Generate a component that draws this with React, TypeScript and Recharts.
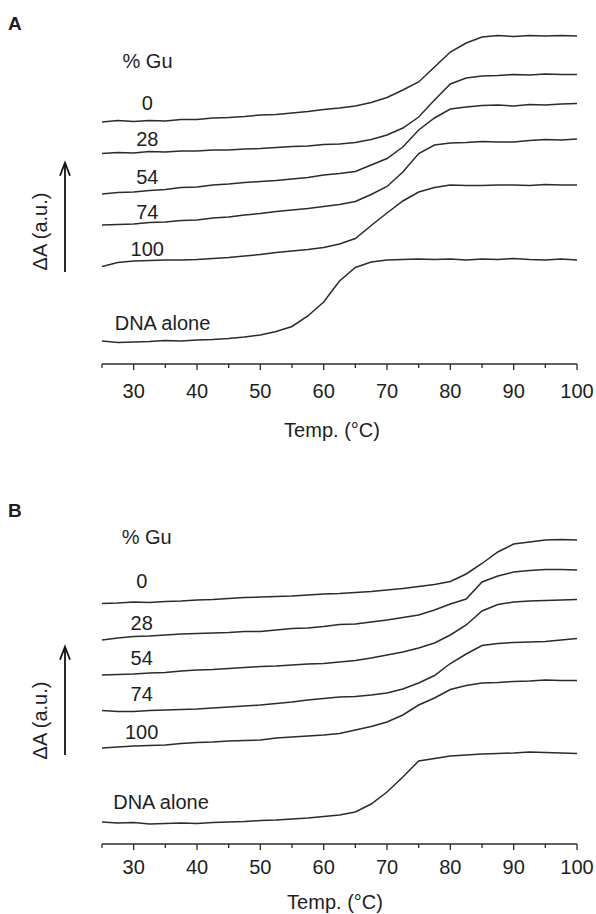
import React from 'react';
import { LineChart, Line, XAxis, YAxis } from 'recharts';

// Temperatures (°C) shared by all curves
const temps = [25, 27.5, 30, 32.5, 35, 37.5, 40, 42.5, 45, 47.5, 50, 52.5, 55, 57.5, 60, 62.5, 65, 67.5, 70, 72.5, 75, 77.5, 80, 82.5, 85, 87.5, 90, 92.5, 95, 97.5, 100];

const xTicks = [25, 30, 35, 40, 45, 50, 55, 60, 65, 70, 75, 80, 85, 90, 95, 100];
const seriesLabels = ['0', '28', '54', '74', '100', 'DNA alone'];

// Panel A: offset absorbance curves (a.u., stacked)
const aGu0 = [242, 243.5, 242.5, 243.5, 243, 244.5, 244.5, 246, 246.5, 247.5, 249, 249.5, 251, 252.5, 254.5, 256, 258, 261.5, 266.5, 274, 282, 297, 312, 321, 327, 328.5, 327.5, 328.5, 328, 328.5, 328];
const aGu28 = [210.5, 211.5, 211, 212.5, 212, 213, 213, 214, 214, 215, 215.5, 216.5, 217.5, 218, 219.5, 220, 221.5, 224.5, 229, 236, 247, 264, 280, 286, 288, 288.5, 289.5, 289, 290, 289.5, 289.5];
const aGu54 = [170, 171.5, 172, 173.5, 174.5, 176.5, 177, 179, 180, 181.5, 182.5, 183.5, 185, 186.5, 189, 190.5, 192.5, 199, 205.5, 217, 234, 246, 255, 257, 258.5, 259, 258, 259.5, 259, 260, 260.5];
const aGu74 = [139, 139.5, 140, 141.5, 142, 143.5, 144, 146, 147, 149, 150.5, 152.5, 154, 155.5, 157.5, 159.5, 162.5, 169.5, 177.5, 192, 210.5, 219, 221, 221.5, 222.5, 222, 222, 223.5, 224.5, 224, 225];
const aGu100 = [97.5, 101.5, 103, 103.5, 104, 104, 104.5, 105.5, 106.5, 108, 109.5, 111.5, 113, 114.5, 116.5, 120, 125.5, 138.5, 151, 163, 172, 176.5, 179, 178.5, 178.5, 179, 179, 178.5, 179.5, 179, 179];
const aDna = [23, 21.5, 22, 22.5, 23.5, 23, 24, 24.5, 25.5, 27, 29, 32.5, 37.5, 48, 62, 83, 96.5, 102, 104, 104.5, 105, 104.5, 105, 104, 105, 104.5, 105.5, 104.5, 104, 105, 104];

// Panel B
const bGu0 = [240.5, 241, 242, 241.5, 242.5, 243, 244, 244.5, 245.5, 246.5, 247, 247.5, 248, 249, 250, 250.5, 251.5, 252.5, 254, 255.5, 257.5, 259.5, 262.5, 270, 280.5, 292, 300, 302, 304, 304.5, 304];
const bGu28 = [204, 206, 207.5, 208, 209, 210, 210.5, 211, 211.5, 212.5, 212.5, 214, 215.5, 216, 217.5, 219.5, 220, 222, 224, 226.5, 229, 234, 240, 245, 262, 268, 272, 273.5, 274.5, 274.5, 274];
const bGu54 = [169, 169.5, 170, 171, 171.5, 173, 174, 174.5, 175.5, 176.5, 177.5, 178, 179, 180, 180.5, 182, 183.5, 186, 189, 192, 196, 201, 209, 219, 233, 239.5, 242, 243, 243.5, 244, 244.5];
const bGu74 = [133.5, 132.5, 132.5, 133.5, 134, 134.5, 135, 136, 137, 138, 139, 140.5, 142, 144, 145.5, 147, 147.5, 149, 151, 155, 161, 168.5, 180.5, 190, 198.5, 200.5, 201.5, 202, 202.5, 204, 205.5];
const bGu100 = [96, 97, 98, 98.5, 99, 100.5, 101.5, 102, 103, 103.5, 104, 106, 107, 108, 109, 110.5, 114, 117.5, 122, 129, 139, 146, 154.5, 158.5, 161, 161.5, 162.5, 163, 164, 163.5, 163.5];
const bDna = [22, 21, 21.5, 20, 20.5, 21, 20.5, 21.5, 22, 22.5, 23.5, 24, 25, 26, 27.5, 29, 32, 40, 52, 67, 83, 85.5, 88, 89, 90, 90.5, 91, 92, 91.5, 91, 90.5];

const buildRows = (series: number[][]) =>
  temps.map((t, i) => {
    const row: Record<string, number> = { t };
    series.forEach((s, k) => {
      row['s' + k] = s[i];
    });
    return row;
  });

const dataA = buildRows([aGu0, aGu28, aGu54, aGu74, aGu100, aDna]);
const dataB = buildRows([bGu0, bGu28, bGu54, bGu74, bGu100, bDna]);

const FONT = '"Liberation Sans", Arial, Helvetica, sans-serif';
const INK = '#2b2b2b';
const TXT = '#1e1e1e';

const makeTick = (axisY: number, labelDy: number) => (props: any) => {
  const { x, payload } = props;
  const v = payload.value;
  const major = v % 10 === 0;
  return (
    <g>
      <line x1={x} x2={x} y1={axisY} y2={axisY + (major ? 6 : 4)} stroke={INK} strokeWidth={1.3} />
      {major ? (
        <text x={x} y={axisY + labelDy} textAnchor="middle" dominantBaseline="central" fontSize={20} fontFamily={FONT} fill={TXT}>
          {v}
        </text>
      ) : null}
    </g>
  );
};

type PanelProps = {
  data: Record<string, number>[];
  top: number;
  height: number;
  marginTop: number;
  axisY: number; // in chart coords
  labelDy: number;
};

const Panel = ({ data, top, height, marginTop, axisY, labelDy }: PanelProps) => {
  const axisH = height - axisY - 10;
  return (
    <div style={{ position: 'absolute', left: 0, top, width: 596, height }}>
      <LineChart width={596} height={height} data={data} margin={{ top: marginTop, right: 19, bottom: 10, left: 102 }}>
        <XAxis
          dataKey="t"
          type="number"
          domain={[25, 100]}
          ticks={xTicks}
          interval={0}
          height={axisH}
          axisLine={{ stroke: INK, strokeWidth: 1.3 }}
          tickLine={false}
          tickSize={0}
          tickMargin={0}
          tick={makeTick(axisY, labelDy)}
          allowDataOverflow
        />
        <YAxis hide type="number" domain={[0, 334]} allowDataOverflow />
        {seriesLabels.map((name, k) => (
          <Line
            key={name}
            name={name}
            dataKey={'s' + k}
            type="linear"
            stroke={INK}
            strokeWidth={1.5}
            dot={false}
            activeDot={false}
            isAnimationActive={false}
          />
        ))}
      </LineChart>
    </div>
  );
};

const T = (p: { x: number; y: number; children: React.ReactNode; anchor?: 'start' | 'middle' | 'end'; bold?: boolean; size?: number }) => (
  <text
    x={p.x}
    y={p.y}
    textAnchor={p.anchor || 'middle'}
    dominantBaseline="central"
    fontSize={p.size || 20}
    fontWeight={p.bold ? 'bold' : 'normal'}
    fontFamily={FONT}
    fill={TXT}
  >
    {p.children}
  </text>
);

const Arrow = ({ x, y1, y2 }: { x: number; y1: number; y2: number }) => (
  <g>
    <line x1={x} x2={x} y1={y1} y2={y2 + 2} stroke="#111" strokeWidth={1.8} />
    <path d={`M ${x - 5} ${y2 + 13} L ${x} ${y2} L ${x + 5} ${y2 + 13}`} fill="none" stroke="#111" strokeWidth={1.8} />
  </g>
);

export default function App() {
  const aLabelY = [103.3, 139, 177.3, 212.3, 249.3];
  const bLabelY = [581, 622.7, 657.7, 694, 731.7];
  return (
    <div style={{ position: 'absolute', left: 0, top: 0, width: 596, height: 914, background: '#fff', overflow: 'hidden' }}>
      <Panel data={dataA} top={0} height={445} marginTop={30} axisY={364} labelDy={27} />
      <Panel data={dataB} top={470} height={444} marginTop={40} axisY={374} labelDy={23} />
      <svg width={596} height={914} style={{ position: 'absolute', left: 0, top: 0, pointerEvents: 'none' }}>
        {/* Panel A annotations */}
        <T x={8} y={23} anchor="start" bold size={19}>A</T>
        <T x={147.5} y={61}>% Gu</T>
        {seriesLabels.slice(0, 5).map((s, i) => (
          <T key={'a' + s} x={147.3} y={aLabelY[i]}>{s}</T>
        ))}
        <T x={162.5} y={323.3}>{seriesLabels[5]}</T>
        <Arrow x={65} y1={272} y2={162.7} />
        <g transform="translate(39.5,231.5) rotate(-90)">
          <T x={0} y={0}>ΔA (a.u.)</T>
        </g>
        <T x={332} y={430}>Temp. (°C)</T>

        {/* Panel B annotations */}
        <T x={8} y={510} anchor="start" bold size={19}>B</T>
        <T x={146.7} y={537}>% Gu</T>
        {seriesLabels.slice(0, 5).map((s, i) => (
          <T key={'b' + s} x={141.7} y={bLabelY[i]}>{s}</T>
        ))}
        <T x={161} y={801.7}>{seriesLabels[5]}</T>
        <Arrow x={65} y1={755} y2={646.7} />
        <g transform="translate(39.5,720.5) rotate(-90)">
          <T x={0} y={0}>ΔA (a.u.)</T>
        </g>
        <T x={335} y={902}>Temp. (°C)</T>
      </svg>
    </div>
  );
}
